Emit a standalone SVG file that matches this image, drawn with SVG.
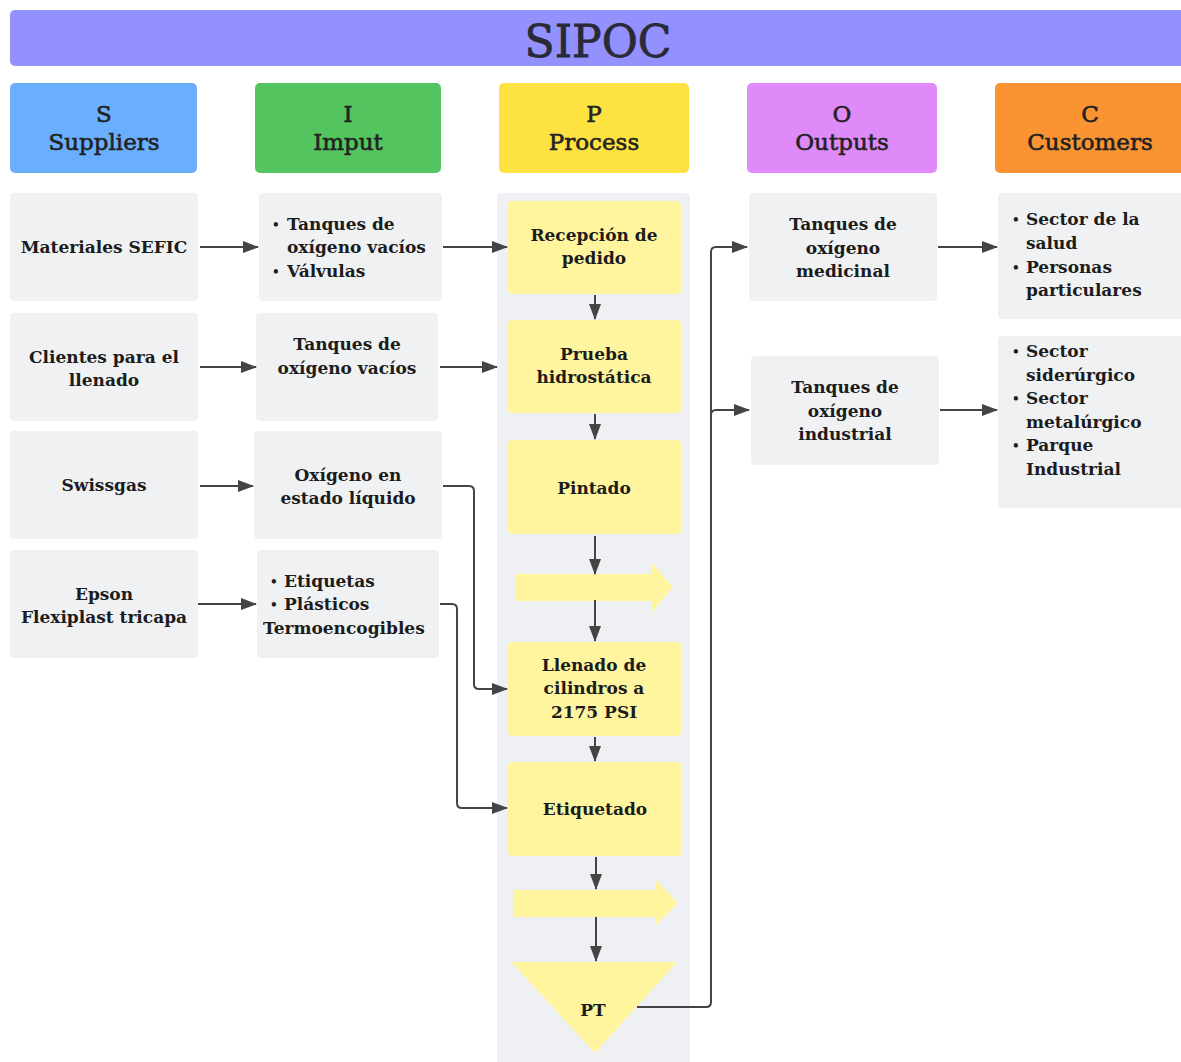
<svg xmlns="http://www.w3.org/2000/svg" width="1181" height="1062" viewBox="0 0 1181 1062">
<style>
.t{font-family:"DejaVu Serif","Liberation Serif",serif;font-weight:bold;font-size:17px;fill:#1c1c1c}
.b{font-size:12px}
.c{text-anchor:middle}
.h{font-family:"DejaVu Serif","Liberation Serif",serif;font-size:23px;fill:#222;stroke:#222;stroke-width:0.6;text-anchor:middle}
.box{fill:#eff1f3}
.pb{fill:#fff59f}
.ln{fill:none;stroke:#444;stroke-width:2}
</style>
<defs>
<marker id="ah" markerUnits="userSpaceOnUse" markerWidth="16" markerHeight="14" refX="15" refY="7" orient="auto">
<path d="M0,1 L16,7 L0,13 Z" fill="#444"/>
</marker>
</defs>
<rect width="1181" height="1062" fill="#ffffff"/>
<g id="title">
<rect x="10" y="10" width="1180" height="56" rx="5" fill="#9391fe"/>
<text x="598" y="57" font-family="DejaVu Serif, Liberation Serif, serif" font-size="44" fill="#2a2a36" stroke="#2a2a36" stroke-width="0.8" text-anchor="middle">SIPOC</text>
</g>
<g id="hdr-s"><rect x="10" y="83" width="187" height="90" rx="5" fill="#6aaffe"/><text class="h" x="104" y="122">S</text><text class="h" x="104" y="150">Suppliers</text></g>
<g id="hdr-i"><rect x="255" y="83" width="186" height="90" rx="5" fill="#54c45e"/><text class="h" x="348" y="122">I</text><text class="h" x="348" y="150">Imput</text></g>
<g id="hdr-p"><rect x="499" y="83" width="190" height="90" rx="5" fill="#fde242"/><text class="h" x="594" y="122">P</text><text class="h" x="594" y="150">Process</text></g>
<g id="hdr-o"><rect x="747" y="83" width="190" height="90" rx="5" fill="#de8bf9"/><text class="h" x="842" y="122">O</text><text class="h" x="842" y="150">Outputs</text></g>
<g id="hdr-c"><rect x="995" y="83" width="200" height="90" rx="5" fill="#fa9432"/><text class="h" x="1090" y="122">C</text><text class="h" x="1090" y="150">Customers</text></g>

<g id="process-lane"><rect x="497" y="193" width="193" height="880" rx="4" fill="#eef0f3"/></g>

<g id="s1"><rect class="box" x="10" y="193" width="188" height="108" rx="4"/><text class="t c" x="104" y="253">Materiales SEFIC</text></g>
<g id="s2"><rect class="box" x="10" y="313" width="188" height="108" rx="4"/><text class="t c" x="104" y="363">Clientes para el</text><text class="t c" x="104" y="386">llenado</text></g>
<g id="s3"><rect class="box" x="10" y="431" width="188" height="108" rx="4"/><text class="t c" x="104" y="491">Swissgas</text></g>
<g id="s4"><rect class="box" x="10" y="550" width="188" height="108" rx="4"/><text class="t c" x="104" y="600">Epson</text><text class="t c" x="104" y="623">Flexiplast tricapa</text></g>

<g id="i1"><rect class="box" x="259" y="193" width="183" height="108" rx="4"/><text class="t b" x="272" y="229">•</text><text class="t" x="287" y="230">Tanques de</text><text class="t" x="287" y="253">oxígeno vacíos</text><text class="t b" x="272" y="276">•</text><text class="t" x="287" y="277">Válvulas</text></g>
<g id="i2"><rect class="box" x="256" y="313" width="182" height="108" rx="4"/><text class="t c" x="347" y="350">Tanques de</text><text class="t c" x="347" y="374">oxígeno vacíos</text></g>
<g id="i3"><rect class="box" x="254" y="431" width="188" height="108" rx="4"/><text class="t c" x="348" y="481">Oxígeno en</text><text class="t c" x="348" y="504">estado líquido</text></g>
<g id="i4"><rect class="box" x="257" y="550" width="182" height="108" rx="4"/><text class="t b" x="270" y="586">•</text><text class="t" x="284" y="587">Etiquetas</text><text class="t b" x="270" y="609">•</text><text class="t" x="284" y="610">Plásticos</text><text class="t" x="263" y="634">Termoencogibles</text></g>

<g id="p1"><rect class="pb" x="508" y="201" width="173" height="93" rx="4"/><text class="t c" x="594" y="241">Recepción de</text><text class="t c" x="594" y="264">pedido</text></g>
<g id="p2"><rect class="pb" x="508" y="320" width="173" height="93" rx="4"/><text class="t c" x="594" y="360">Prueba</text><text class="t c" x="594" y="383">hidrostática</text></g>
<g id="p3"><rect class="pb" x="508" y="440" width="173" height="94" rx="4"/><text class="t c" x="594" y="494">Pintado</text></g>
<g id="p-arrow1"><path class="pb" d="M515,574 L652,574 L652,563 L673,587 L652,612 L652,601 L515,601 Z"/></g>
<g id="p4"><rect class="pb" x="508" y="642" width="173" height="94" rx="4"/><text class="t c" x="594" y="671">Llenado de</text><text class="t c" x="594" y="694">cilindros a</text><text class="t c" x="594" y="718">2175 PSI</text></g>
<g id="p5"><rect class="pb" x="508" y="762" width="174" height="94" rx="4"/><text class="t c" x="595" y="815">Etiquetado</text></g>
<g id="p-arrow2"><path class="pb" d="M514,890 L655,890 L655,879 L678,903 L655,926 L655,917 L514,917 Z"/></g>
<g id="pt"><path class="pb" d="M511,962 L677,962 L595,1053 Z"/><text class="t c" x="593" y="1016">PT</text></g>

<g id="o1"><rect class="box" x="749" y="193" width="188" height="108" rx="4"/><text class="t c" x="843" y="230">Tanques de</text><text class="t c" x="843" y="254">oxígeno</text><text class="t c" x="843" y="277">medicinal</text></g>
<g id="o2"><rect class="box" x="751" y="356" width="188" height="109" rx="4"/><text class="t c" x="845" y="393">Tanques de</text><text class="t c" x="845" y="417">oxígeno</text><text class="t c" x="845" y="440">industrial</text></g>

<g id="c1"><rect class="box" x="998" y="193" width="190" height="126" rx="4"/><text class="t b" x="1012" y="224">•</text><text class="t" x="1026" y="225">Sector de la</text><text class="t" x="1026" y="249">salud</text><text class="t b" x="1012" y="272">•</text><text class="t" x="1026" y="273">Personas</text><text class="t" x="1026" y="296">particulares</text></g>
<g id="c2"><rect class="box" x="998" y="336" width="190" height="172" rx="4"/><text class="t b" x="1012" y="356">•</text><text class="t" x="1026" y="357">Sector</text><text class="t" x="1026" y="381">siderúrgico</text><text class="t b" x="1012" y="403">•</text><text class="t" x="1026" y="404">Sector</text><text class="t" x="1026" y="428">metalúrgico</text><text class="t b" x="1012" y="450">•</text><text class="t" x="1026" y="451">Parque</text><text class="t" x="1026" y="475">Industrial</text></g>

<g id="connectors">
<path class="ln" marker-end="url(#ah)" d="M200,247 L258,247"/>
<path class="ln" marker-end="url(#ah)" d="M443,247 L507,247"/>
<path class="ln" marker-end="url(#ah)" d="M200,367 L256,367"/>
<path class="ln" marker-end="url(#ah)" d="M440,367 L497,367"/>
<path class="ln" marker-end="url(#ah)" d="M200,486 L253,486"/>
<path class="ln" marker-end="url(#ah)" d="M198,604 L256,604"/>
<path class="ln" marker-end="url(#ah)" d="M443,486 L469,486 Q474,486 474,491 L474,684 Q474,689 479,689 L507,689"/>
<path class="ln" marker-end="url(#ah)" d="M440,604 L452,604 Q457,604 457,609 L457,803 Q457,808 462,808 L507,808"/>
<path class="ln" marker-end="url(#ah)" d="M595,295 L595,319"/>
<path class="ln" marker-end="url(#ah)" d="M595,414 L595,439"/>
<path class="ln" marker-end="url(#ah)" d="M595,536 L595,574"/>
<path class="ln" marker-end="url(#ah)" d="M595,600 L595,641"/>
<path class="ln" marker-end="url(#ah)" d="M595,737 L595,761"/>
<path class="ln" marker-end="url(#ah)" d="M596,857 L596,889"/>
<path class="ln" marker-end="url(#ah)" d="M596,917 L596,961"/>
<path class="ln" marker-end="url(#ah)" d="M637,1007 L706,1007 Q711,1007 711,1002 L711,252 Q711,247 716,247 L747,247"/>
<path class="ln" marker-end="url(#ah)" d="M711,415 Q711,410 716,410 L749,410"/>
<path class="ln" marker-end="url(#ah)" d="M938,247 L997,247"/>
<path class="ln" marker-end="url(#ah)" d="M940,410 L997,410"/>
</g>
</svg>
